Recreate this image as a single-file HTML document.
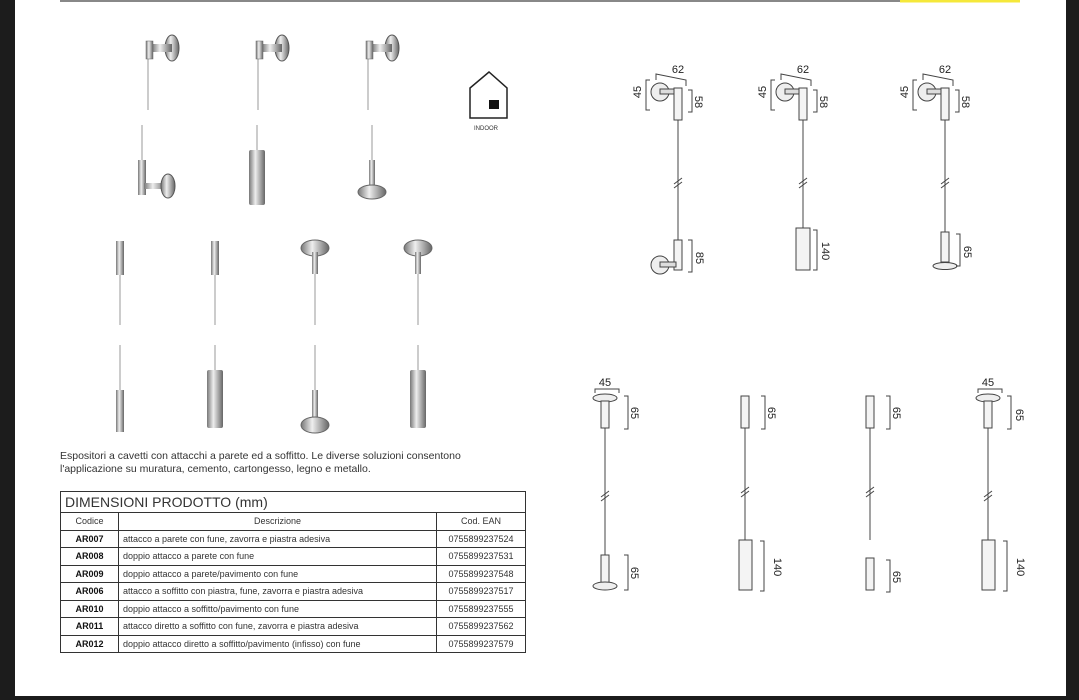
<!DOCTYPE html>
<html><head><meta charset="utf-8"><style>
body{margin:0;width:1079px;height:700px;overflow:hidden;background:#fff;font-family:"Liberation Sans",sans-serif;}
#pg{position:absolute;left:0;top:0;width:1079px;height:700px;}
.desc{position:absolute;left:60px;top:450px;font-size:10.5px;color:#333;line-height:13px;}
table{position:absolute;left:60px;top:491px;width:466px;border-collapse:collapse;font-size:9px;color:#333;}
td{border:1px solid #333;height:16.5px;padding:0 4px;}
.t{font-size:14px;height:20px;padding-left:4px;}
.c{text-align:center;}
.b{font-weight:bold;text-align:center;color:#111}
</style></head><body>
<svg id="pg" width="1079" height="700" viewBox="0 0 1079 700">
<rect x="0" y="0" width="15" height="700" fill="#1c1c1c"/>
<rect x="1066" y="0" width="13" height="700" fill="#1c1c1c"/>
<rect x="0" y="696" width="1079" height="4" fill="#1c1c1c"/>
<rect x="60" y="0" width="840" height="2" fill="#888"/>
<rect x="900" y="0" width="120" height="2.5" fill="#f5e83a"/>
<defs>
<linearGradient id="m" x1="0" x2="1"><stop offset="0" stop-color="#777"/><stop offset=".4" stop-color="#eee"/><stop offset="1" stop-color="#666"/></linearGradient>
<g id="wb"><ellipse cx="12" cy="0" rx="7" ry="13" fill="url(#m)" stroke="#555"/><rect x="-8" y="-4" width="20" height="8" fill="url(#m)"/><rect x="-14" y="-7" width="7" height="18" fill="url(#m)" stroke="#666" stroke-width=".5"/></g>
</defs>
<g stroke="#999" stroke-width="1">
<line x1="148" y1="55" x2="148" y2="110"/><line x1="258" y1="55" x2="258" y2="110"/><line x1="368" y1="55" x2="368" y2="110"/>
<line x1="142" y1="125" x2="142" y2="160"/><line x1="257" y1="125" x2="257" y2="150"/><line x1="372" y1="125" x2="372" y2="160"/>
<line x1="120" y1="275" x2="120" y2="325"/><line x1="215" y1="275" x2="215" y2="325"/><line x1="315" y1="265" x2="315" y2="325"/><line x1="418" y1="265" x2="418" y2="325"/>
<line x1="120" y1="345" x2="120" y2="390"/><line x1="215" y1="345" x2="215" y2="370"/><line x1="315" y1="345" x2="315" y2="390"/><line x1="418" y1="345" x2="418" y2="370"/>
</g>
<use href="#wb" x="160" y="48"/><use href="#wb" x="270" y="48"/><use href="#wb" x="380" y="48"/>
<rect x="138" y="160" width="8" height="35" fill="url(#m)"/><rect x="144" y="183" width="22" height="6" fill="url(#m)"/><ellipse cx="168" cy="186" rx="7" ry="12" fill="url(#m)" stroke="#555"/>
<rect x="249" y="150" width="16" height="55" rx="2" fill="url(#m)"/>
<rect x="369" y="160" width="6" height="28" fill="url(#m)"/><ellipse cx="372" cy="192" rx="14" ry="7" fill="url(#m)" stroke="#666"/>
<rect x="116" y="241" width="8" height="34" fill="url(#m)"/><rect x="211" y="241" width="8" height="34" fill="url(#m)"/>
<ellipse cx="315" cy="248" rx="14" ry="8" fill="url(#m)" stroke="#666"/><rect x="312" y="252" width="6" height="22" fill="url(#m)"/>
<ellipse cx="418" cy="248" rx="14" ry="8" fill="url(#m)" stroke="#666"/><rect x="415" y="252" width="6" height="22" fill="url(#m)"/>
<rect x="116" y="390" width="8" height="42" fill="url(#m)"/>
<rect x="207" y="370" width="16" height="58" rx="2" fill="url(#m)"/>
<rect x="312" y="390" width="6" height="30" fill="url(#m)"/><ellipse cx="315" cy="425" rx="14" ry="8" fill="url(#m)" stroke="#666"/>
<rect x="410" y="370" width="16" height="58" rx="2" fill="url(#m)"/>
<path d="M470 118 V88 L489 72 L507 88 V118 Z" fill="none" stroke="#222" stroke-width="1.5"/>
<rect x="489" y="100" width="10" height="9" fill="#111"/>
<text x="486" y="130" font-size="6" text-anchor="middle" fill="#333">INDOOR</text>
<g stroke="#444" stroke-width="1" fill="none" font-size="11">
<g id="t1">
<circle cx="660" cy="92" r="9" fill="#eee"/><rect x="660" y="89" width="16" height="5" fill="#ddd"/>
<rect x="674" y="88" width="8" height="32" fill="#f4f4f4"/>
<line x1="678" y1="120" x2="678" y2="240"/><line x1="674" y1="184" x2="682" y2="178"/><line x1="674" y1="188" x2="682" y2="182"/>
<path d="M650 80 h-4 v30 h4 M656 80 v-6 l30 6 v6 M688 90 h4 v22 h-4"/>
</g>
<rect x="674" y="240" width="8" height="30" fill="#f4f4f4"/><circle cx="660" cy="265" r="9" fill="#eee"/><rect x="660" y="262" width="16" height="5" fill="#ddd"/>
<path d="M688 240 h4 v32 h-4"/>
<use href="#t1" x="125"/>
<rect x="796" y="228" width="14" height="42" fill="#f4f4f4"/><path d="M813 230 h4 v40 h-4"/>
<use href="#t1" x="267"/>
<rect x="941" y="232" width="8" height="30" fill="#f4f4f4"/><ellipse cx="945" cy="266" rx="12" ry="3.5" fill="#eee"/><path d="M956 234 h4 v32 h-4"/>
<g id="b1"><ellipse cx="605" cy="398" rx="12" ry="4" fill="#eee"/><rect x="601" y="401" width="8" height="27" fill="#f4f4f4"/>
<line x1="605" y1="428" x2="605" y2="555"/><line x1="601" y1="497" x2="609" y2="491"/><line x1="601" y1="501" x2="609" y2="495"/>
<path d="M624 396 h4 v33 h-4 M595 393 v-4 h24 v4"/></g>
<rect x="601" y="555" width="8" height="28" fill="#f4f4f4"/><ellipse cx="605" cy="586" rx="12" ry="4" fill="#eee"/><path d="M624 555 h4 v35 h-4"/>
<g id="b2"><rect x="741" y="396" width="8" height="32" fill="#f4f4f4"/><line x1="745" y1="428" x2="745" y2="540"/><line x1="741" y1="493" x2="749" y2="487"/><line x1="741" y1="497" x2="749" y2="491"/><path d="M761 396 h4 v33 h-4"/></g>
<rect x="739" y="540" width="13" height="50" fill="#f4f4f4"/><path d="M760 541 h4 v50 h-4"/>
<use href="#b2" x="125"/>
<rect x="866" y="558" width="8" height="32" fill="#f4f4f4"/><path d="M886 560 h4 v32 h-4"/>
<use href="#b1" x="383"/>
<rect x="982" y="540" width="13" height="50" fill="#f4f4f4"/><path d="M1003 541 h4 v50 h-4"/>
</g>
<g font-size="11" fill="#222">
<text x="678" y="73" text-anchor="middle">62</text><text x="803" y="73" text-anchor="middle">62</text><text x="945" y="73" text-anchor="middle">62</text>
<text transform="translate(641,92) rotate(-90)" text-anchor="middle">45</text><text transform="translate(766,92) rotate(-90)" text-anchor="middle">45</text><text transform="translate(908,92) rotate(-90)" text-anchor="middle">45</text>
<text transform="translate(695,102) rotate(90)" text-anchor="middle">58</text><text transform="translate(820,102) rotate(90)" text-anchor="middle">58</text><text transform="translate(962,102) rotate(90)" text-anchor="middle">58</text>
<text transform="translate(696,258) rotate(90)" text-anchor="middle">85</text><text transform="translate(822,251) rotate(90)" text-anchor="middle">140</text><text transform="translate(964,252) rotate(90)" text-anchor="middle">65</text>
<text x="605" y="386" text-anchor="middle">45</text><text x="988" y="386" text-anchor="middle">45</text>
<text transform="translate(631,413) rotate(90)" text-anchor="middle">65</text><text transform="translate(631,573) rotate(90)" text-anchor="middle">65</text>
<text transform="translate(768,413) rotate(90)" text-anchor="middle">65</text><text transform="translate(774,567) rotate(90)" text-anchor="middle">140</text>
<text transform="translate(893,413) rotate(90)" text-anchor="middle">65</text><text transform="translate(893,577) rotate(90)" text-anchor="middle">65</text>
<text transform="translate(1016,415) rotate(90)" text-anchor="middle">65</text><text transform="translate(1017,567) rotate(90)" text-anchor="middle">140</text>
</g>
</svg>
<div class="desc">Espositori a cavetti con attacchi a parete ed a soffitto. Le diverse soluzioni consentono<br>l'applicazione su muratura, cemento, cartongesso, legno e metallo.</div>
<table>
<tr><td colspan="3" class="t">DIMENSIONI PRODOTTO (mm)</td></tr>
<tr><td class="c" style="width:49px">Codice</td><td class="c">Descrizione</td><td class="c" style="width:80px">Cod. EAN</td></tr>
<tr><td class="b">AR007</td><td>attacco a parete con fune, zavorra e piastra adesiva</td><td class="c">0755899237524</td></tr>
<tr><td class="b">AR008</td><td>doppio attacco a parete con fune</td><td class="c">0755899237531</td></tr>
<tr><td class="b">AR009</td><td>doppio attacco a parete/pavimento con fune</td><td class="c">0755899237548</td></tr>
<tr><td class="b">AR006</td><td>attacco a soffitto con piastra, fune, zavorra e piastra adesiva</td><td class="c">0755899237517</td></tr>
<tr><td class="b">AR010</td><td>doppio attacco a soffitto/pavimento con fune</td><td class="c">0755899237555</td></tr>
<tr><td class="b">AR011</td><td>attacco diretto a soffitto con fune, zavorra e piastra adesiva</td><td class="c">0755899237562</td></tr>
<tr><td class="b">AR012</td><td>doppio attacco diretto a soffitto/pavimento (infisso) con fune</td><td class="c">0755899237579</td></tr>
</table>
</body></html>
